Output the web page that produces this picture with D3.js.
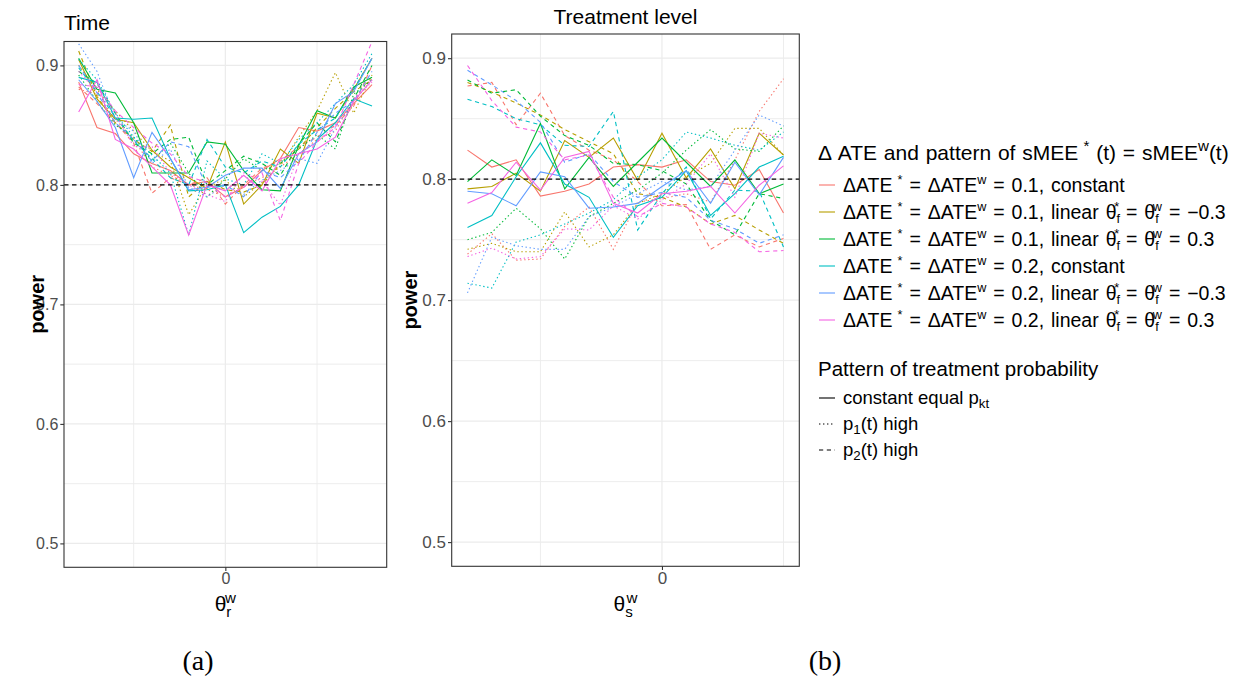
<!DOCTYPE html>
<html>
<head>
<meta charset="utf-8">
<script src="https://cdn.jsdelivr.net/npm/d3@7"></script>
<style>
  body { margin: 0; background: #fff; }
  svg { font-family: "Liberation Sans", Arial, sans-serif; }
</style>
</head>
<body>
<svg id="chart" width="1243" height="678"></svg>
<script>
// ---- x grids -------------------------------------------------------------
const thetaR = [-0.8, -0.7, -0.6, -0.5, -0.4, -0.3, -0.2, -0.1, 0, 0.1, 0.2, 0.3, 0.4, 0.5, 0.6, 0.7, 0.8];
const thetaS = [-0.8, -0.7, -0.6, -0.5, -0.4, -0.3, -0.2, -0.1, 0, 0.1, 0.2, 0.3, 0.4, 0.5];

// ---- settings (colour groups) and treatment-probability patterns ---------
const settingKeys = ["c1", "n1", "p1", "c2", "n2", "p2"];
const settingColors = ["#F8766D", "#B79F00", "#00BA38", "#00BFC4", "#619CFF", "#F564E3"];
const patternKeys = ["eq", "hi1", "hi2"];
const yTicks = [0.5, 0.6, 0.7, 0.8, 0.9];
const xTicks = [0];
const targetPower = 0.8;

// ---- power, time-varying effect (panel a) --------------------------------
const time_c1_eq  = [0.886, 0.848, 0.843, 0.826, 0.818, 0.812, 0.800, 0.803, 0.790, 0.798, 0.812, 0.822, 0.848, 0.845, 0.852, 0.868, 0.884];
const time_n1_eq  = [0.905, 0.872, 0.855, 0.852, 0.829, 0.815, 0.806, 0.797, 0.836, 0.784, 0.800, 0.830, 0.818, 0.860, 0.856, 0.880, 0.906];
const time_p1_eq  = [0.906, 0.880, 0.877, 0.852, 0.810, 0.810, 0.810, 0.836, 0.834, 0.812, 0.796, 0.795, 0.833, 0.862, 0.856, 0.882, 0.890];
const time_c2_eq  = [0.890, 0.886, 0.856, 0.855, 0.856, 0.822, 0.795, 0.796, 0.800, 0.760, 0.773, 0.782, 0.800, 0.838, 0.852, 0.872, 0.866];
const time_n2_eq  = [0.888, 0.870, 0.848, 0.806, 0.844, 0.822, 0.796, 0.798, 0.808, 0.814, 0.814, 0.797, 0.826, 0.836, 0.868, 0.878, 0.906];
const time_p2_eq  = [0.861, 0.888, 0.838, 0.830, 0.815, 0.800, 0.758, 0.800, 0.795, 0.808, 0.795, 0.822, 0.826, 0.830, 0.840, 0.870, 0.888];

const time_c1_hi1 = [0.880, 0.876, 0.855, 0.838, 0.815, 0.808, 0.800, 0.796, 0.790, 0.800, 0.806, 0.815, 0.826, 0.838, 0.845, 0.872, 0.890];
const time_n1_hi1 = [0.900, 0.880, 0.862, 0.845, 0.828, 0.820, 0.775, 0.800, 0.804, 0.790, 0.802, 0.816, 0.840, 0.862, 0.894, 0.860, 0.892];
const time_p1_hi1 = [0.892, 0.870, 0.850, 0.840, 0.820, 0.835, 0.810, 0.790, 0.805, 0.822, 0.812, 0.818, 0.830, 0.842, 0.830, 0.876, 0.888];
const time_c2_hi1 = [0.905, 0.888, 0.860, 0.840, 0.825, 0.810, 0.758, 0.820, 0.805, 0.800, 0.826, 0.818, 0.838, 0.852, 0.868, 0.884, 0.910];
const time_n2_hi1 = [0.918, 0.895, 0.855, 0.845, 0.818, 0.830, 0.798, 0.790, 0.800, 0.792, 0.804, 0.812, 0.822, 0.818, 0.848, 0.870, 0.888];
const time_p2_hi1 = [0.895, 0.878, 0.860, 0.832, 0.832, 0.810, 0.800, 0.792, 0.786, 0.810, 0.803, 0.783, 0.826, 0.836, 0.850, 0.872, 0.886];

const time_c1_hi2 = [0.882, 0.868, 0.852, 0.835, 0.793, 0.806, 0.800, 0.806, 0.784, 0.800, 0.814, 0.820, 0.832, 0.840, 0.850, 0.866, 0.900];
const time_n1_hi2 = [0.912, 0.874, 0.852, 0.838, 0.828, 0.850, 0.790, 0.803, 0.796, 0.794, 0.800, 0.818, 0.830, 0.848, 0.864, 0.878, 0.888];
const time_p1_hi2 = [0.895, 0.885, 0.860, 0.835, 0.826, 0.838, 0.840, 0.800, 0.812, 0.824, 0.818, 0.808, 0.834, 0.852, 0.836, 0.872, 0.900];
const time_c2_hi2 = [0.898, 0.878, 0.857, 0.837, 0.822, 0.806, 0.800, 0.838, 0.815, 0.810, 0.820, 0.815, 0.834, 0.846, 0.856, 0.880, 0.906];
const time_n2_hi2 = [0.900, 0.877, 0.852, 0.838, 0.820, 0.836, 0.832, 0.798, 0.800, 0.790, 0.812, 0.806, 0.820, 0.844, 0.860, 0.870, 0.895];
const time_p2_hi2 = [0.884, 0.882, 0.862, 0.848, 0.835, 0.826, 0.807, 0.802, 0.790, 0.798, 0.810, 0.770, 0.818, 0.836, 0.848, 0.884, 0.920];

// ---- power, treatment-level effect (panel b) -----------------------------
const level_c1_eq  = [0.824, 0.810, 0.816, 0.786, 0.790, 0.796, 0.810, 0.812, 0.810, 0.816, 0.798, 0.795, 0.808, 0.772];
const level_n1_eq  = [0.792, 0.794, 0.805, 0.790, 0.832, 0.818, 0.834, 0.799, 0.838, 0.801, 0.825, 0.792, 0.838, 0.820];
const level_p1_eq  = [0.798, 0.816, 0.803, 0.846, 0.792, 0.818, 0.794, 0.814, 0.834, 0.814, 0.794, 0.816, 0.788, 0.796];
const level_c2_eq  = [0.760, 0.770, 0.802, 0.830, 0.796, 0.785, 0.752, 0.778, 0.785, 0.807, 0.770, 0.788, 0.810, 0.819];
const level_n2_eq  = [0.790, 0.788, 0.778, 0.806, 0.802, 0.776, 0.777, 0.780, 0.794, 0.807, 0.780, 0.814, 0.787, 0.818];
const level_p2_eq  = [0.780, 0.789, 0.814, 0.791, 0.818, 0.823, 0.780, 0.772, 0.788, 0.790, 0.794, 0.772, 0.795, 0.811];

const level_c1_hi1 = [0.738, 0.755, 0.733, 0.734, 0.761, 0.777, 0.742, 0.781, 0.784, 0.788, 0.781, 0.816, 0.856, 0.883];
const level_n1_hi1 = [0.742, 0.747, 0.740, 0.740, 0.773, 0.744, 0.754, 0.780, 0.788, 0.802, 0.813, 0.842, 0.842, 0.820];
const level_p1_hi1 = [0.750, 0.756, 0.776, 0.759, 0.734, 0.769, 0.780, 0.791, 0.805, 0.824, 0.841, 0.825, 0.823, 0.844];
const level_c2_hi1 = [0.714, 0.710, 0.748, 0.754, 0.763, 0.772, 0.783, 0.802, 0.816, 0.839, 0.834, 0.828, 0.824, 0.839];
const level_n2_hi1 = [0.706, 0.752, 0.745, 0.742, 0.742, 0.769, 0.777, 0.788, 0.798, 0.791, 0.794, 0.824, 0.853, 0.844];
const level_p2_hi1 = [0.736, 0.743, 0.734, 0.736, 0.759, 0.758, 0.778, 0.767, 0.783, 0.796, 0.821, 0.785, 0.838, 0.834];

const level_c1_hi2 = [0.877, 0.880, 0.845, 0.871, 0.836, 0.824, 0.816, 0.798, 0.778, 0.779, 0.742, 0.754, 0.744, 0.751];
const level_n1_hi2 = [0.880, 0.872, 0.863, 0.853, 0.841, 0.831, 0.821, 0.788, 0.785, 0.777, 0.763, 0.770, 0.758, 0.747];
const level_p1_hi2 = [0.882, 0.871, 0.874, 0.852, 0.836, 0.828, 0.813, 0.812, 0.807, 0.796, 0.766, 0.754, 0.788, 0.784];
const level_c2_hi2 = [0.866, 0.860, 0.850, 0.845, 0.828, 0.827, 0.856, 0.758, 0.788, 0.810, 0.767, 0.791, 0.790, 0.744];
const level_n2_hi2 = [0.890, 0.878, 0.865, 0.847, 0.814, 0.821, 0.798, 0.785, 0.789, 0.785, 0.766, 0.759, 0.747, 0.754];
const level_p2_hi2 = [0.894, 0.865, 0.843, 0.839, 0.816, 0.820, 0.785, 0.769, 0.780, 0.777, 0.763, 0.756, 0.740, 0.741];

// ---- assemble the series tables for each panel ---------------------------
const timeSeries = [
  [time_c1_eq, time_n1_eq, time_p1_eq, time_c2_eq, time_n2_eq, time_p2_eq],
  [time_c1_hi1, time_n1_hi1, time_p1_hi1, time_c2_hi1, time_n2_hi1, time_p2_hi1],
  [time_c1_hi2, time_n1_hi2, time_p1_hi2, time_c2_hi2, time_n2_hi2, time_p2_hi2]
];
const levelSeries = [
  [level_c1_eq, level_n1_eq, level_p1_eq, level_c2_eq, level_n2_eq, level_p2_eq],
  [level_c1_hi1, level_n1_hi1, level_p1_hi1, level_c2_hi1, level_n2_hi1, level_p2_hi1],
  [level_c1_hi2, level_n1_hi2, level_p1_hi2, level_c2_hi2, level_n2_hi2, level_p2_hi2]
];

function buildRows(xs, table) {
  const rows = [];
  table.forEach((bySetting, p) => {
    bySetting.forEach((vals, s) => {
      rows.push({ setting: s, pattern: p, points: xs.map((x, i) => ({ x, y: vals[i] })) });
    });
  });
  rows.sort((a, b) => a.setting - b.setting || a.pattern - b.pattern);
  return rows;
}

const dashFor = ["none", "1.4,2.6", "4.2,3.6"];

const svg = d3.select("#chart");
svg.append("rect").attr("width", 1243).attr("height", 678).attr("fill", "#fff");

// rich text helper: parts = [[text, kind]], kind in n | sup | sub | over
// "over" places a superscript directly above the preceding subscript.
function richText(parent, x, y, parts, size, opts = {}) {
  const supK = opts.sup ?? 0.44, subK = opts.sub ?? 0.3, scale = opts.scale ?? 0.72;
  const t = parent.append("text").attr("x", x).attr("y", y).attr("font-size", size);
  if (opts.anchor) t.attr("text-anchor", opts.anchor);
  let shift = 0;
  let lastSubW = 0;
  parts.forEach(([txt, kind]) => {
    let target = 0, fs = size, dx = 0;
    if (kind === "sup") { target = -supK * size; fs = scale * size; }
    if (kind === "sub") { target = subK * size; fs = scale * size; lastSubW = txt.length * 0.3 * size; }
    if (kind === "over") { target = -supK * size; fs = scale * size; dx = -lastSubW; }
    const ts = t.append("tspan").attr("font-size", fs).attr("dy", target - shift).text(txt);
    if (dx) ts.attr("dx", dx);
    shift = target;
  });
  return t;
}

function drawPanel(cfg) {
  const x = d3.scaleLinear().domain(cfg.xDomain).range([cfg.left, cfg.right]);
  const y = d3.scaleLinear().domain([0.48, 0.92]).range([cfg.bottom, cfg.top]);
  const g = svg.append("g");

  // minor grid
  const yMinor = [0.55, 0.65, 0.75, 0.85];
  g.selectAll(".ymin").data(yMinor).join("line")
    .attr("x1", cfg.left).attr("x2", cfg.right)
    .attr("y1", d => y(d)).attr("y2", d => y(d))
    .attr("stroke", "#EBEBEB").attr("stroke-width", 0.9);
  g.selectAll(".xmin").data([-0.5, 0.5]).join("line")
    .attr("y1", cfg.top).attr("y2", cfg.bottom)
    .attr("x1", d => x(d)).attr("x2", d => x(d))
    .attr("stroke", "#EBEBEB").attr("stroke-width", 0.9);
  // major grid
  g.selectAll(".ymaj").data(yTicks).join("line")
    .attr("x1", cfg.left).attr("x2", cfg.right)
    .attr("y1", d => y(d)).attr("y2", d => y(d))
    .attr("stroke", "#EBEBEB").attr("stroke-width", 1.2);
  g.selectAll(".xmaj").data(xTicks).join("line")
    .attr("y1", cfg.top).attr("y2", cfg.bottom)
    .attr("x1", d => x(d)).attr("x2", d => x(d))
    .attr("stroke", "#EBEBEB").attr("stroke-width", 1.2);

  // series
  const line = d3.line().x(d => x(d.x)).y(d => y(d.y));
  g.selectAll(".series").data(buildRows(cfg.xs, cfg.table)).join("path")
    .attr("d", d => line(d.points))
    .attr("fill", "none")
    .attr("stroke", d => settingColors[d.setting])
    .attr("stroke-width", 1.1)
    .attr("stroke-dasharray", d => dashFor[d.pattern]);

  // reference power
  g.append("line")
    .attr("x1", cfg.left).attr("x2", cfg.right)
    .attr("y1", y(targetPower)).attr("y2", y(targetPower))
    .attr("stroke", "#000").attr("stroke-width", 1.1).attr("stroke-dasharray", "4.5,3.5");

  // border
  g.append("rect")
    .attr("x", cfg.left).attr("y", cfg.top)
    .attr("width", cfg.right - cfg.left).attr("height", cfg.bottom - cfg.top)
    .attr("fill", "none").attr("stroke", "#333").attr("stroke-width", 1.1);

  // axes
  const ay = g.append("g").attr("transform", `translate(${cfg.left},0)`)
    .call(d3.axisLeft(y).tickValues(yTicks).tickSize(3.7).tickPadding(2).tickFormat(d3.format(".1f")));
  const ax = g.append("g").attr("transform", `translate(0,${cfg.bottom})`)
    .call(d3.axisBottom(x).tickValues(xTicks).tickSize(3.7).tickPadding(2).tickFormat(d3.format("d")));
  [ay, ax].forEach(a => {
    a.attr("font-family", null).attr("font-size", null);
    a.select(".domain").remove();
    a.selectAll(".tick line").attr("stroke", "#333").attr("stroke-width", 1.1);
    a.selectAll(".tick text").attr("fill", "#4D4D4D").attr("font-size", cfg.tickSize);
  });

  // y title
  g.append("text")
    .attr("transform", `translate(${cfg.yTitleX},${(cfg.top + cfg.bottom) / 2}) rotate(-90)`)
    .attr("text-anchor", "middle").attr("font-size", 20).attr("font-weight", "bold")
    .text("power");

  // x title
  richText(g, (cfg.left + cfg.right) / 2, cfg.xTitleY,
    [["θ", "n"], [cfg.xSub, "sub"], ["w", "over"]], 21, { anchor: "middle", sub: 0.3, sup: 0.4 });

  // panel title
  const tt = g.append("text").attr("font-size", 21).attr("y", cfg.titleY).text(cfg.title);
  if (cfg.titleAnchor === "middle") tt.attr("x", (cfg.left + cfg.right) / 2).attr("text-anchor", "middle");
  else tt.attr("x", cfg.left);

  // caption
  g.append("text").attr("x", cfg.captionX).attr("y", 670).attr("text-anchor", "middle")
    .style("font-family", "'Liberation Serif', 'DejaVu Serif', serif").attr("font-size", 28)
    .text(cfg.caption);
}

drawPanel({
  xs: thetaR, table: timeSeries, xDomain: [-0.88, 0.88],
  left: 64, right: 386.7, top: 41.5, bottom: 567.3,
  tickSize: 16, yTitleX: 44, xTitleY: 611, xSub: "r",
  title: "Time", titleY: 30, titleAnchor: "start",
  caption: "(a)", captionX: 198
});

drawPanel({
  xs: thetaS, table: levelSeries, xDomain: [-0.865, 0.565],
  left: 451.7, right: 799.3, top: 34, bottom: 566.3,
  tickSize: 17, yTitleX: 417, xTitleY: 611, xSub: "s",
  title: "Treatment level", titleY: 24, titleAnchor: "middle",
  caption: "(b)", captionX: 825
});

// ---- legends ---------------------------------------------------------------
const lg = svg.append("g");
richText(lg, 818, 160,
  [["Δ ATE and pattern of sMEE", "n"], [" *", "sup"], [" (t) = sMEE", "n"], ["w", "sup"], ["(t)", "n"]], 21)
  .attr("word-spacing", 1);

const ate = (v) => [["ΔATE", "n"], [" *", "sup"], ["  = ΔATE", "n"], ["w", "sup"], [" = " + v + ", ", "n"]];
const lin = (v) => [["linear θ", "n"], ["f", "sub"], ["*", "over"], ["  = θ", "n"], ["f", "sub"], ["w", "over"], [" = " + v, "n"]];
const settingLabels = [
  [...ate("0.1"), ["constant", "n"]],
  [...ate("0.1"), ...lin("−0.3")],
  [...ate("0.1"), ...lin("0.3")],
  [...ate("0.2"), ["constant", "n"]],
  [...ate("0.2"), ...lin("−0.3")],
  [...ate("0.2"), ...lin("0.3")]
];
const rowY = d3.scaleLinear().domain([0, 5]).range([185, 320]);
settingKeys.forEach((k, i) => {
  lg.append("line").attr("x1", 819).attr("x2", 835).attr("y1", rowY(i)).attr("y2", rowY(i))
    .attr("stroke", settingColors[i]).attr("stroke-width", 1.1);
  richText(lg, 843, rowY(i) + 7, settingLabels[i], 19.5, { sup: 0.4, sub: 0.2, scale: 0.65 })
    .attr("word-spacing", 1.5);
});

lg.append("text").attr("x", 818).attr("y", 376).attr("font-size", 20.5).text("Pattern of treatment probability");
const patternParts = [
  [["constant equal p", "n"], ["kt", "sub"]],
  [["p", "n"], ["1", "sub"], ["(t) high", "n"]],
  [["p", "n"], ["2", "sub"], ["(t) high", "n"]]
];
const patY = [398, 424, 450];
patternKeys.forEach((k, i) => {
  lg.append("line").attr("x1", 819).attr("x2", 835).attr("y1", patY[i]).attr("y2", patY[i])
    .attr("stroke", "#000").attr("stroke-width", 1.1).attr("stroke-dasharray", dashFor[i]);
  richText(lg, 843, patY[i] + 6, patternParts[i], 18.5, { sub: 0.22 });
});
</script>
</body>
</html>
